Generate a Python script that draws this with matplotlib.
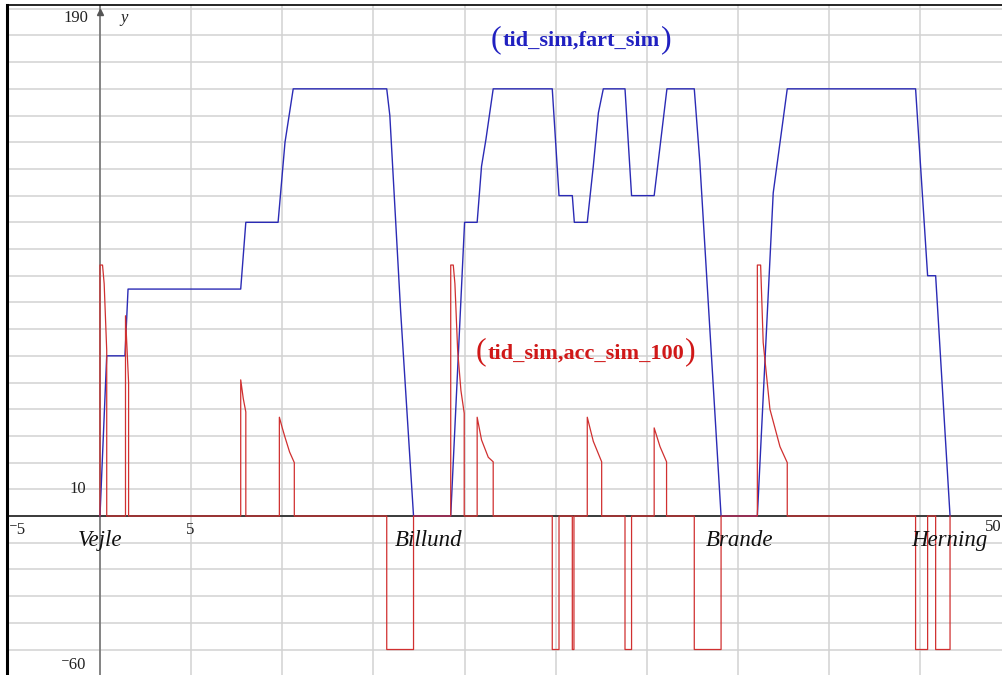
import matplotlib
matplotlib.use('Agg')
import matplotlib.pyplot as plt

# ---- data ----
tid_fart = [0, 0.37, 1.37, 1.54, 7.72, 8.0, 9.77, 10.15, 10.6, 15.73, 15.9, 16.49, 17.2,
            19.24, 20.0, 20.69, 20.93, 21.17, 21.57, 24.81, 25.18, 25.91, 26.02, 26.73,
            27.06, 27.34, 27.61, 28.8, 29.16, 30.4, 31.1, 32.6, 32.9, 34.07,
            36.06, 36.93, 37.7, 44.74, 45.4, 45.84, 46.63]
fart_sim = [0, 60, 60, 85, 85, 110, 110, 140, 160, 160, 150, 77, 0,
            0, 110, 110, 131, 141, 160, 160, 120, 120, 110, 110,
            131, 151, 160, 160, 120, 120, 160, 160, 133, 0,
            0, 121, 160, 160, 90, 90, 0]

tid_acc = [0, 0, 0.14, 0.23, 0.37, 0.37,
           1.4, 1.4, 1.57, 1.57,
           7.72, 7.72, 7.86, 8.0, 8.0,
           9.84, 9.84, 10.0, 10.15, 10.4, 10.66, 10.66,
           15.73, 15.73, 17.2, 17.2,
           19.24, 19.24, 19.38, 19.47, 19.62, 19.8, 19.98, 19.98,
           20.69, 20.69, 20.93, 21.3, 21.57, 21.57,
           24.81, 24.81, 25.18, 25.18,
           25.91, 25.91, 26.0, 26.0,
           26.73, 26.73, 27.06, 27.52, 27.52,
           28.8, 28.8, 29.16, 29.16,
           30.4, 30.4, 30.72, 31.08, 31.08,
           32.6, 32.6, 34.07, 34.07,
           36.06, 36.06, 36.24, 36.38, 36.75, 37.3, 37.7, 37.7,
           44.74, 44.74, 45.4, 45.4,
           45.84, 45.84, 46.63, 46.63]
acc_sim_100 = [0, 94, 94, 87, 62, 0,
               0, 75, 50, 0,
               0, 51, 44, 39, 0,
               0, 37, 33, 29.5, 24, 20, 0,
               0, -50, -50, 0,
               0, 94, 94, 87, 62, 47, 38.5, 0,
               0, 37, 28.5, 22, 20.3, 0,
               0, -50, -50, 0,
               0, -50, -50, 0,
               0, 37, 28, 20.3, 0,
               0, -50, -50, 0,
               0, 33, 26, 20.3, 0,
               0, -50, -50, 0,
               0, 94, 94, 65, 40, 26, 20, 0,
               0, -50, -50, 0,
               0, -50, -50, 0]

stations = ['Vejle', 'Billund', 'Brande', 'Herning']
station_tid = [0.0, 18.0, 35.1, 46.6]

W, H = 1002, 675
fig = plt.figure(figsize=(W / 100, H / 100), dpi=100)
ax = fig.add_axes([7 / W, 0, (W - 7) / W, 670 / H])
ax.set_xlim(-5.1, 49.48)
ax.set_ylim(-59.55, 191.4)
ax.set_xticks([])
ax.set_yticks([])
for s in ['right', 'bottom']:
    ax.spines[s].set_visible(False)
ax.spines['left'].set_linewidth(2.2)
ax.spines['left'].set_color('black')
ax.spines['top'].set_linewidth(1.2)
ax.spines['top'].set_color('black')

grid_c = '#d2d2d2'
for gx in range(5, 50, 5):
    ax.axvline(gx, color=grid_c, lw=1.1, zorder=0)
for gy in range(-50, 191, 10):
    if gy != 0:
        ax.axhline(gy, color=grid_c, lw=1.1, zorder=0)

ax.axvline(0, color='#7a7a7a', lw=1.3, zorder=1)
ax.axhline(0, color='#3a3a3a', lw=1.4, zorder=1)
ax.plot([0], [188.8], marker='^', ms=5, color='#555555', zorder=2, clip_on=False)

ax.plot(tid_fart, fart_sim, color='#2b2bb5', lw=1.0, zorder=3)
ax.plot(tid_acc, acc_sim_100, color='#d03030', lw=0.9, zorder=4)

serif = ['Liberation Serif', 'DejaVu Serif']
tick_kw = dict(family=serif, fontsize=12, color='#222222')
ax.text(-0.66, 186.5, '190', ha='right', va='center', **tick_kw)
ax.text(1.1, 186.5, 'y', ha='left', va='center', style='italic', **tick_kw)
ax.text(-0.77, 10, '10', ha='right', va='center', **tick_kw)
ax.text(-0.77, -55.8, '\u207b60', ha='right', va='center', **tick_kw)
ax.text(-4.97, -5.2, '\u207b5', ha='left', va='center', **tick_kw)
ax.text(4.94, -5.2, '5', ha='center', va='center', **tick_kw)
ax.text(49.45, -4.0, '50', ha='right', va='center', **tick_kw)

for name, t in zip(stations, station_tid):
    ax.text(t, -9.2, name, ha='center', va='center', family=serif,
            style='italic', fontsize=16.5, color='#111111', zorder=5)

def label(xc, yc, body, color):
    t = ax.text(xc, yc, body, ha='center', va='center', family=serif,
                fontweight='bold', fontsize=16, color=color, zorder=5)
    fig.canvas.draw()
    bb = t.get_window_extent()
    inv = ax.transData.inverted()
    xl, _ = inv.transform((bb.x0 - 1, 0))
    xr, _ = inv.transform((bb.x1 + 1, 0))
    ax.text(xl, yc + 0.5, '(', ha='right', va='center', family=serif,
            fontsize=23, color=color, zorder=5)
    ax.text(xr, yc + 0.5, ')', ha='left', va='center', family=serif,
            fontsize=23, color=color, zorder=5)

label(26.4, 178, 'tid_sim,fart_sim', '#2020c0')
label(26.66, 61, 'tid_sim,acc_sim_100', '#d01818')

fig.savefig('out.png', dpi=100)
